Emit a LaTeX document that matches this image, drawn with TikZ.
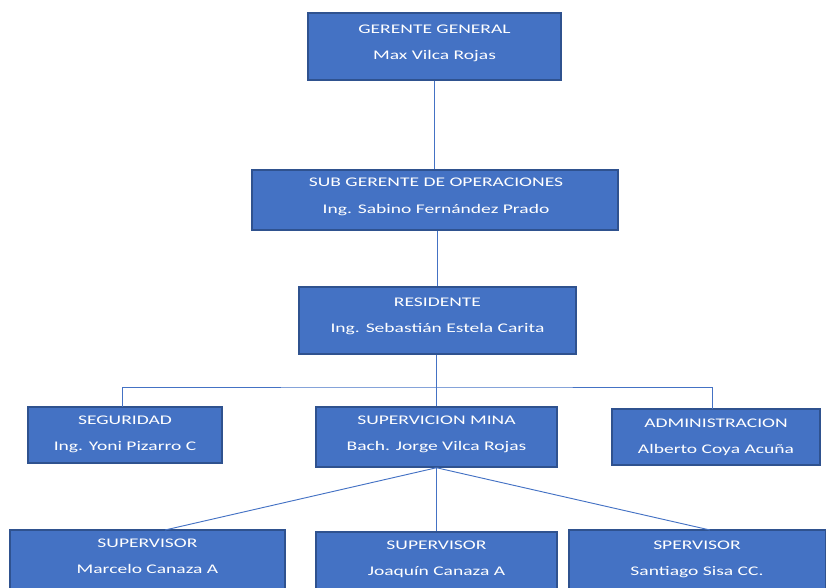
\documentclass[tikz,border=0pt]{standalone}
\usepackage{fontspec}
\setmainfont[FakeStretch=1.48]{Carlito}
\definecolor{boxfill}{HTML}{4472C4}
\definecolor{boxedge}{HTML}{2F528F}
\definecolor{linkc}{HTML}{4472C4}
\begin{document}
\begin{tikzpicture}[x=0.75pt,y=-0.75pt,
  orgbox/.style={draw=boxedge,fill=boxfill,line width=1.1pt,rectangle,inner sep=0pt},
  lbl/.style={text=white,font=\fontsize{9.9}{12}\selectfont,inner sep=0pt,anchor=base},
  link/.style={draw=linkc,line width=0.7pt}]
\useasboundingbox (0,0) rectangle (826,587);
\clip (0,0) rectangle (826,587);
% boxes
\node[orgbox,minimum width=253*0.75pt,minimum height=67*0.75pt] (g) at (434.5,46.5) {};
\node[orgbox,minimum width=366*0.75pt,minimum height=60*0.75pt] (s) at (435,200) {};
\node[orgbox,minimum width=277*0.75pt,minimum height=67*0.75pt] (r) at (437.5,320.5) {};
\node[orgbox,minimum width=194*0.75pt,minimum height=56*0.75pt] (seg) at (125,435) {};
\node[orgbox,minimum width=241*0.75pt,minimum height=60*0.75pt] (sm) at (436.5,437) {};
\node[orgbox,minimum width=208*0.75pt,minimum height=56*0.75pt] (adm) at (716,437) {};
\node[orgbox,minimum width=275*0.75pt,minimum height=80*0.75pt] (b1) at (147.5,570) {};
\node[orgbox,minimum width=241*0.75pt,minimum height=78*0.75pt] (b2) at (436.5,571) {};
\node[orgbox,minimum width=257*0.75pt,minimum height=80*0.75pt] (b3) at (697.5,570) {};
% texts
\node[lbl] (g1) at (434.5,33) {GERENTE GENERAL};
\node[lbl] (g2) at (434.5,59) {Max Vilca Rojas};
\node[lbl] (s1) at (436,186) {SUB GERENTE DE OPERACIONES};
\node[lbl] (s2) at (436,213) {Ing. Sabino Fernández Prado};
\node[lbl] (r1) at (437.5,306) {RESIDENTE};
\node[lbl] (r2) at (437.5,332) {Ing. Sebastián Estela Carita};
\node[lbl] (seg1) at (125,424) {SEGURIDAD};
\node[lbl] (seg2) at (125,450) {Ing. Yoni Pizarro C};
\node[lbl] (sm1) at (436.5,424) {SUPERVICION MINA};
\node[lbl] (sm2) at (436.5,450) {Bach. Jorge Vilca Rojas};
\node[lbl] (adm1) at (716,427) {ADMINISTRACION};
\node[lbl] (adm2) at (716,453) {Alberto Coya Acuña};
\node[lbl] (b11) at (147.5,547) {SUPERVISOR};
\node[lbl] (b12) at (147.5,573) {Marcelo Canaza A};
\node[lbl] (b21) at (436.5,549) {SUPERVISOR};
\node[lbl] (b22) at (436.5,575) {Joaquín Canaza A};
\node[lbl] (b31) at (697,549) {SPERVISOR};
\node[lbl] (b32) at (697,575) {Santiago Sisa CC.};
% connector points
\coordinate (bus) at (436,387);
\coordinate (segtop) at (122,407);
\coordinate (admtop) at (712,409);
\coordinate (t1) at (165,530);
\coordinate (t3) at (710,530);
% connectors
\path[link] (g.south) -- (s.north -| g.south);
\path[link] (s.south -| r.north) -- (r.north);
\path[link] (r.south -| bus) -- (sm.north -| bus);
\path[link] (segtop) |- (bus) -| (admtop);
\path[link] (sm.south) -- (t1);
\path[link] (sm.south) -- (b2.north);
\path[link] (sm.south) -- (t3);
\end{tikzpicture}
\end{document}
